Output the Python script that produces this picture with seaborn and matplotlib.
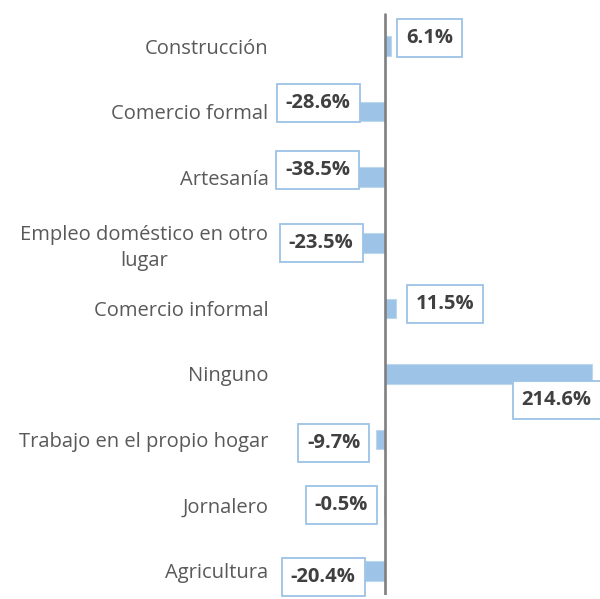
import matplotlib
matplotlib.use("Agg")
import matplotlib.pyplot as plt
import seaborn as sns
import pandas as pd

# datos del gráfico
categorias = [
    "Construcción",
    "Comercio formal",
    "Artesanía",
    "Empleo doméstico en otro\nlugar",
    "Comercio informal",
    "Ninguno",
    "Trabajo en el propio hogar",
    "Jornalero",
    "Agricultura",
]
variacion = [6.1, -28.6, -38.5, -23.5, 11.5, 214.6, -9.7, -0.5, -20.4]
etiquetas = [f"{v:.1f}%" for v in variacion]

# desplazamiento de cada etiqueta respecto al extremo de la barra (px)
desplaz = [(39, -8), (-39, -9), (-30, -7), (-41, 0), (49, -4),
           (-35, 26), (-42, 3), (-43, 0), (-42, 6)]

df = pd.DataFrame({"categoria": categorias, "variacion": variacion})

sns.set_style("white")
plt.rcParams["font.family"] = ["Open Sans", "DejaVu Sans"]

fig = plt.figure(figsize=(6.0, 5.99), dpi=100)
ax = fig.add_axes([274 / 600, 4 / 599, 321 / 600, 585 / 599])

sns.barplot(data=df, y="categoria", x="variacion", orient="h", color="#9DC3E6",
            width=0.3, edgecolor="#BDD7EE", linewidth=0.8, saturation=1, ax=ax)

ax.set_xlim(-115, 218)
ax.set_ylim(8.37, -0.55)
ax.axvline(0, color="#7F7F7F", lw=1.9, ymax=0.993, zorder=3)

for s in ax.spines.values():
    s.set_visible(False)
ax.set_xticks([])
ax.set_xlabel("")
ax.set_ylabel("")
ax.tick_params(axis="y", length=0, pad=4, labelsize=14.5, labelcolor="#595959")
for t in ax.get_yticklabels():
    t.set_multialignment("center")
    t.set_linespacing(1.35)

for i, (v, lab, (dx, dy)) in enumerate(zip(variacion, etiquetas, desplaz)):
    ax.annotate(lab, xy=(v, i), xytext=(dx * 0.72, -dy * 0.72),
                textcoords="offset points", ha="center", va="center",
                fontsize=14.5, fontweight="bold", color="#404040", zorder=5,
                bbox=dict(boxstyle="square,pad=0.45", fc="white",
                          ec="#9DC3E6", lw=1.3))

plt.savefig("out.png", dpi=100)
